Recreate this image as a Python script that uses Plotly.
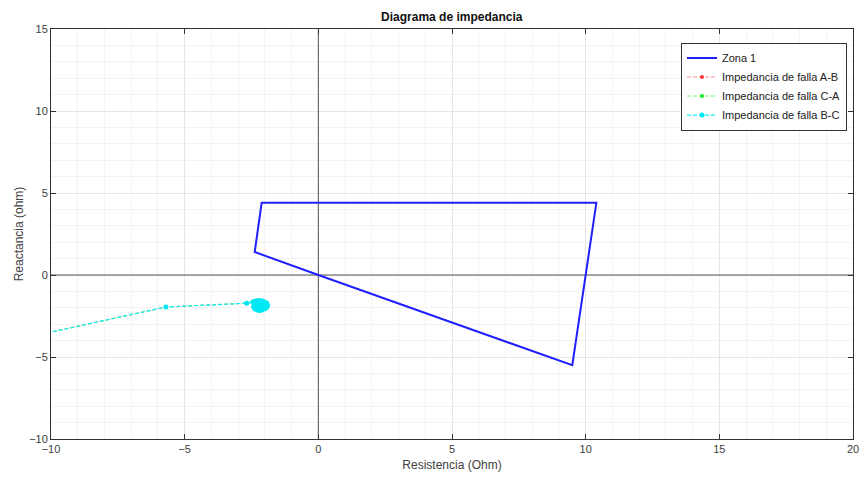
import plotly.graph_objects as go

# Zone 1 characteristic (R, X) in ohm
zona_r = [0.0, 9.5, 10.4, -2.12, -2.38, 0.0]
zona_x = [0.0, -5.5, 4.4, 4.4, 1.4, 0.0]

# Fault impedance trajectory (R, X) in ohm
falla_r = [-13.0, -5.7, -2.68, -2.45, -2.38, -2.3, -2.2, -2.1, -2.0, -1.93, -1.9, -1.93, -2.0,
           -2.1, -2.2, -2.3, -2.38, -2.42, -2.4, -2.32, -2.22, -2.12, -2.05, -2.05, -2.12,
           -2.2, -2.28, -2.3, -2.25, -2.18]
falla_x = [-4.55, -1.95, -1.72, -1.65, -1.6, -1.57, -1.56, -1.58, -1.64, -1.72, -1.84, -1.96, -2.06,
           -2.14, -2.17, -2.14, -2.06, -1.94, -1.8, -1.7, -1.66, -1.7, -1.8, -1.94, -2.02,
           -2.04, -1.98, -1.86, -1.78, -1.84]

x_ticks = [-10, -5, 0, 5, 10, 15, 20]
y_ticks = [-10, -5, 0, 5, 10, 15]

font = "Liberation Sans, Arial, sans-serif"
txt = "#404040"

fig = go.Figure()

# reference axes through the origin
fig.add_trace(go.Scatter(x=[-10, 20], y=[0, 0], mode="lines",
                         line=dict(color="#555555", width=1), showlegend=False, hoverinfo="skip"))
fig.add_trace(go.Scatter(x=[0, 0], y=[-10, 15], mode="lines",
                         line=dict(color="#555555", width=1), showlegend=False, hoverinfo="skip"))

fig.add_trace(go.Scatter(x=zona_r, y=zona_x, mode="lines", name="Zona 1",
                         line=dict(color="#2020ff", width=2)))
fig.add_trace(go.Scatter(x=falla_r, y=falla_x, mode="lines+markers", name="Impedancia de falla A-B",
                         line=dict(color="#ff7070", width=0.8, dash="4px,2px"),
                         marker=dict(color="#ff3030", size=4)))
fig.add_trace(go.Scatter(x=falla_r, y=falla_x, mode="lines+markers", name="Impedancia de falla C-A",
                         line=dict(color="#50f050", width=0.8, dash="4px,2px"),
                         marker=dict(color="#20e020", size=4)))
fig.add_trace(go.Scatter(x=falla_r, y=falla_x, mode="lines+markers", name="Impedancia de falla B-C",
                         line=dict(color="#10f0f8", width=1.2, dash="4px,2px"),
                         marker=dict(color="#00e8f4", size=5)))

axis_common = dict(
    showline=True, linecolor="#333333", linewidth=1, mirror="ticks",
    ticks="inside", ticklen=5, tickcolor="#333333",
    showgrid=True, gridcolor="#e6e6e6", gridwidth=1,
    zeroline=False, automargin=False,
    tickfont=dict(family=font, size=11, color=txt),
    minor=dict(showgrid=True, gridcolor="#f3f3f3", gridwidth=1, dtick=1, ticks=""),
)

fig.update_xaxes(range=[-10, 20], tickvals=x_ticks,
                 title=dict(text="Resistencia (Ohm)", font=dict(family=font, size=12, color=txt), standoff=6),
                 **axis_common)
fig.update_yaxes(range=[-10, 15], tickvals=y_ticks,
                 title=dict(text="Reactancia (ohm)", font=dict(family=font, size=12, color=txt), standoff=2),
                 **axis_common)

fig.update_layout(
    width=866, height=480,
    margin=dict(l=51, r=13, t=29, b=41),
    paper_bgcolor="white", plot_bgcolor="white",
    title=dict(text="<b>Diagrama de impedancia</b>", x=0.5217, xanchor="center", y=0.965, yanchor="middle",
               font=dict(family=font, size=12, color="#111111")),
    legend=dict(x=0.9925, xanchor="right", y=0.967, yanchor="top",
                bgcolor="white", bordercolor="#333333", borderwidth=1,
                font=dict(family=font, size=11, color="#222222"),
                tracegroupgap=0, itemwidth=30),
    showlegend=True,
)

fig.write_html("out.html")
